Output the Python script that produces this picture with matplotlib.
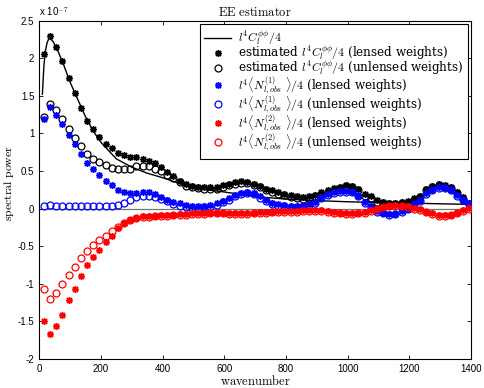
import numpy as np
import matplotlib
matplotlib.use("Agg")
import matplotlib.pyplot as plt
from matplotlib.lines import Line2D

plt.rcParams["mathtext.fontset"] = "cm"
plt.rcParams["font.family"] = ["Liberation Sans", "DejaVu Sans"]

# ── Data (units of 1e-7) ────────────────────────────────────────────────────
ell = np.arange(15, 1400, 20)   # bin centres

theory_l = [10, 15, 20, 25, 30, 35, 45, 60, 80, 100, 125, 150, 175, 200, 250,
            300, 350, 400, 450, 500, 550, 600, 700, 800, 900, 1000, 1100,
            1200, 1300, 1400]
theory = [1.52, 1.90, 2.10, 2.20, 2.25, 2.26, 2.22, 2.10, 1.90, 1.68, 1.45,
          1.22, 1.03, 0.88, 0.66, 0.55, 0.47, 0.41, 0.34, 0.28, 0.245, 0.22,
          0.16, 0.125, 0.105, 0.09, 0.08, 0.072, 0.063, 0.055]

est_lensed = [2.05, 2.30, 2.15, 1.96, 1.73, 1.54, 1.34, 1.17, 1.06, 0.95,
              0.86, 0.80, 0.74, 0.71, 0.69, 0.68, 0.665, 0.635, 0.60, 0.555,
              0.49, 0.43, 0.37, 0.32, 0.30, 0.29, 0.28, 0.28, 0.285, 0.31,
              0.33, 0.35, 0.36, 0.355, 0.33, 0.30, 0.265, 0.24, 0.215, 0.195,
              0.175, 0.16, 0.15, 0.16, 0.18, 0.215, 0.245, 0.27, 0.29, 0.315,
              0.30, 0.26, 0.19, 0.16, 0.11, 0.09, 0.08, 0.08, 0.09, 0.10,
              0.14, 0.17, 0.26, 0.30, 0.33, 0.31, 0.29, 0.22, 0.15, 0.08]

est_unlensed = [1.22, 1.39, 1.31, 1.19, 1.055, 0.94, 0.83, 0.73, 0.665, 0.62,
                0.575, 0.545, 0.52, 0.52, 0.52, 0.57, 0.57, 0.56, 0.53, 0.50,
                0.45, 0.40, 0.35, 0.30, 0.28, 0.27, 0.26, 0.26, 0.265, 0.285,
                0.31, 0.33, 0.34, 0.335, 0.31, 0.28, 0.245, 0.22, 0.195, 0.175,
                0.155, 0.14, 0.13, 0.14, 0.16, 0.195, 0.225, 0.25, 0.27, 0.295,
                0.28, 0.24, 0.17, 0.14, 0.09, 0.07, 0.06, 0.06, 0.07, 0.08,
                0.12, 0.15, 0.24, 0.28, 0.31, 0.29, 0.27, 0.20, 0.13, 0.06]

n1_lensed = [1.19, 1.35, 1.25, 1.13, 0.975, 0.86, 0.72, 0.61, 0.53, 0.44,
             0.37, 0.31, 0.25, 0.22, 0.21, 0.21, 0.225, 0.215, 0.195, 0.155,
             0.12, 0.09, 0.07, 0.05, 0.035, 0.035, 0.04, 0.045, 0.07, 0.10,
             0.135, 0.18, 0.21, 0.22, 0.205, 0.16, 0.115, 0.08, 0.055, 0.045,
             0.04, 0.04, 0.04, 0.06, 0.09, 0.15, 0.195, 0.22, 0.235, 0.235,
             0.225, 0.17, 0.09, 0.03, -0.03, -0.06, -0.075, -0.07, -0.035, 0.0,
             0.065, 0.11, 0.20, 0.25, 0.28, 0.28, 0.25, 0.18, 0.12, 0.065]

n1_unlensed = [0.035, 0.05, 0.04, 0.04, 0.035, 0.04, 0.04, 0.035, 0.035, 0.04,
               0.035, 0.04, 0.045, 0.07, 0.11, 0.15, 0.165, 0.165, 0.15, 0.125,
               0.095, 0.065, 0.04, 0.02, 0.01, 0.01, 0.015, 0.025, 0.05, 0.085,
               0.12, 0.16, 0.19, 0.20, 0.19, 0.145, 0.10, 0.065, 0.04, 0.03,
               0.025, 0.025, 0.03, 0.045, 0.075, 0.135, 0.18, 0.21, 0.225, 0.225,
               0.215, 0.16, 0.08, 0.02, -0.04, -0.065, -0.08, -0.075, -0.04, -0.005,
               0.055, 0.10, 0.19, 0.24, 0.27, 0.27, 0.24, 0.17, 0.11, 0.055]

n2_lensed = [-1.50, -1.67, -1.565, -1.41, -1.22, -1.065, -0.90, -0.755, -0.65, -0.55,
             -0.44, -0.36, -0.265, -0.19, -0.15, -0.12, -0.105, -0.10, -0.095, -0.09,
             -0.085, -0.08, -0.075, -0.07, -0.065, -0.06, -0.06, -0.055, -0.055, -0.055,
             -0.06, -0.06, -0.06, -0.06, -0.055, -0.05, -0.045, -0.04, -0.035, -0.03,
             -0.03, -0.03, -0.025, -0.02, -0.02, -0.025, -0.035, -0.045, -0.055, -0.06,
             -0.06, -0.055, -0.045, -0.02, 0.0, 0.025, 0.04, 0.045, 0.04, 0.03,
             0.01, -0.01, -0.04, -0.065, -0.085, -0.09, -0.08, -0.055, -0.025, 0.01]

n2_unlensed = [-1.07, -1.20, -1.12, -1.01, -0.88, -0.78, -0.66, -0.56, -0.49, -0.42,
               -0.36, -0.30, -0.245, -0.19, -0.15, -0.125, -0.115, -0.11, -0.105, -0.10,
               -0.095, -0.09, -0.085, -0.08, -0.075, -0.07, -0.07, -0.065, -0.065, -0.065,
               -0.07, -0.07, -0.07, -0.07, -0.065, -0.06, -0.055, -0.05, -0.045, -0.04,
               -0.04, -0.04, -0.035, -0.03, -0.03, -0.035, -0.045, -0.055, -0.065, -0.07,
               -0.07, -0.065, -0.055, -0.03, -0.01, 0.015, 0.03, 0.035, 0.03, 0.02,
               0.0, -0.02, -0.05, -0.075, -0.095, -0.10, -0.09, -0.065, -0.035, 0.0]

xticks = [0, 200, 400, 600, 800, 1000, 1200, 1400]
yticks = [-2, -1.5, -1, -0.5, 0, 0.5, 1, 1.5, 2, 2.5]
ytick_labels = ["-2", "-1.5", "-1", "-0.5", "0", "0.5", "1", "1.5", "2", "2.5"]

labels = [
    r"$l^4C_l^{\phi\phi}/4$",
    r"estimated $l^4C_l^{\phi\phi}/4$ (lensed weights)",
    r"estimated $l^4C_l^{\phi\phi}/4$ (unlensed weights)",
    r"$l^4\langle N^{(1)}_{l,obs}\ \rangle/4$ (lensed weights)",
    r"$l^4\langle N^{(1)}_{l,obs}\ \rangle/4$ (unlensed weights)",
    r"$l^4\langle N^{(2)}_{l,obs}\ \rangle/4$ (lensed weights)",
    r"$l^4\langle N^{(2)}_{l,obs}\ \rangle/4$ (unlensed weights)",
]

# ── Plot ────────────────────────────────────────────────────────────────────
STAR = (8, 2, 0)   # asterisk, MATLAB-like
MS = 5

fig = plt.figure(figsize=(4.85, 3.88), dpi=100)
ax = fig.add_axes([0.081, 0.075, 0.890, 0.872])

ax.axhline(0, color="0.45", lw=0.9, zorder=1)
ax.plot(theory_l, theory, color="k", lw=1.0, zorder=3)

series = [
    (est_lensed, "k", True),
    (est_unlensed, "k", False),
    (n1_lensed, "b", True),
    (n1_unlensed, "b", False),
    (n2_lensed, "r", True),
    (n2_unlensed, "r", False),
]
handles = [Line2D([], [], color="k", lw=1.0)]
for vals, col, filled in series:
    if filled:
        kw = dict(marker=STAR, ms=MS, mec=col, mfc=col, mew=1.0)
    else:
        kw = dict(marker="o", ms=MS, mec=col, mfc="none", mew=0.9)
    ax.plot(ell, vals, ls="none", zorder=4, **kw)
    handles.append(Line2D([], [], ls="none", **kw))

ax.set_xlim(0, 1400)
ax.set_ylim(-2, 2.5)
ax.set_xticks(xticks)
ax.set_yticks(yticks)
ax.set_yticklabels(ytick_labels)
ax.tick_params(direction="in", top=True, right=True, labelsize=7, length=3, width=0.6)
for s in ax.spines.values():
    s.set_linewidth(0.8)

ax.set_title(r"$\mathrm{EE\ estimator}$", fontsize=9, pad=3)
ax.set_xlabel(r"$\mathrm{wavenumber}$", fontsize=9, labelpad=0)
ax.set_ylabel(r"$\mathrm{spectral\ power}$", fontsize=8.5)
ax.yaxis.set_label_coords(-0.055, 0.52)
ax.text(0.0, 1.005, r"x 10$^{-7}$", transform=ax.transAxes, fontsize=7,
        ha="left", va="bottom")

leg = ax.legend(handles, labels, loc="upper right",
                prop={"family": "DejaVu Serif", "size": 8.6},
                fancybox=False, edgecolor="k", framealpha=1,
                borderaxespad=0.25, handlelength=2.2, labelspacing=-0.32,
                handletextpad=0.6, borderpad=0.4)
leg.get_frame().set_linewidth(0.8)

fig.savefig("out.png", dpi=100)
